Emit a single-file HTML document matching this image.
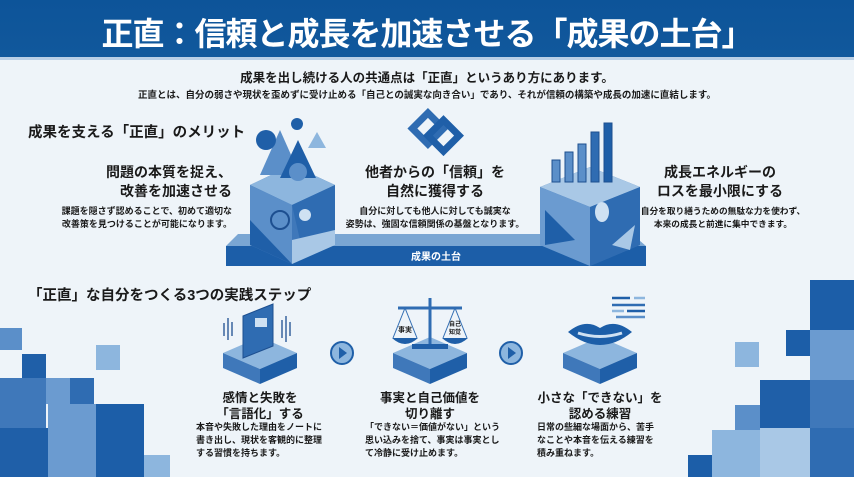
<!DOCTYPE html>
<html><head><meta charset="utf-8"><style>
*{margin:0;padding:0;box-sizing:border-box}
body{width:854px;height:477px;overflow:hidden;background:#eef4f9;font-family:"Liberation Sans","Noto Sans CJK JP",sans-serif;position:relative;color:#1a1a1a}
.t{position:absolute;white-space:nowrap;font-weight:bold}
.c{text-align:center}
.r{text-align:right}
</style></head><body>
<div style="position:absolute;left:0;top:0;width:854px;height:57px;background:linear-gradient(#0d5499,#11589c)"></div>
<div style="position:absolute;left:0;top:57px;width:854px;height:3px;background:#b9cfe6"></div>
<div class="t c" style="left:0;top:9px;width:854px;font-size:32px;color:#fff;letter-spacing:-1px">正直：信頼と成長を加速させる「成果の土台」</div>

<div class="t c" style="left:0;top:67px;width:854px;font-size:12.5px">成果を出し続ける人の共通点は「正直」というあり方にあります。</div>
<div class="t c" style="left:0;top:87px;width:854px;font-size:9.5px">正直とは、自分の弱さや現状を歪めずに受け止める「自己との誠実な向き合い」であり、それが信頼の構築や成長の加速に直結します。</div>

<div class="t" style="left:28px;top:121px;font-size:14.5px">成果を支える「正直」のメリット</div>

<svg style="position:absolute;left:0;top:0" width="854" height="477">
<polygon points="238,234 632,234 646,246 226,246" fill="#7aa6d3"/>
<rect x="226" y="246" width="420" height="20" fill="#1c5ea8"/>
<!-- left cube -->
<polygon points="292,165 335,185 335,245 292,264 250,245 250,185" fill="#3f78ba"/>
<polygon points="292,165 335,185 292,205 250,185" fill="#8db6de"/>
<polygon points="250,185 292,205 292,264 250,245" fill="#5b8fc9"/>
<polygon points="250,220 292,264 250,245" fill="#1f5fa8"/>
<polygon points="292,205 335,185 335,230 300,240" fill="#2f6cb2"/>
<polygon points="292,240 335,230 335,245 292,264" fill="#a9c8e6"/>
<circle cx="280" cy="220" r="9" fill="none" stroke="#1d4f90" stroke-width="2"/>
<circle cx="305" cy="215" r="6" fill="#cfe1f2"/>
<polygon points="280,130 300,175 260,175" fill="#5b8fc9"/>
<circle cx="266" cy="140" r="10" fill="#1f5fa8"/>
<circle cx="297" cy="124" r="6" fill="#1f5fa8"/>
<polygon points="317,132 326,148 308,148" fill="#8db6de"/>
<polygon points="298,140 316,178 280,178" fill="#1f5fa8"/>
<circle cx="298" cy="172" r="9" fill="#5b8fc9"/>
<!-- right cube -->
<polygon points="590,167 640,187 640,245 590,266 540,245 540,187" fill="#3f78ba"/>
<polygon points="590,167 640,187 590,207 540,187" fill="#a9c8e6"/>
<polygon points="540,187 590,207 590,266 540,245" fill="#6b9bd0"/>
<polygon points="590,207 640,187 640,245 590,266" fill="#2f6cb2"/>
<polygon points="545,210 575,240 545,245" fill="#1f5fa8"/>
<ellipse cx="602" cy="212" rx="7" ry="10" fill="#cfe1f2"/>
<polygon points="635,225 612,245 630,250" fill="#a9c8e6"/>
<rect x="552" y="160" width="8" height="22" fill="#5b8fc9" stroke="#1d4f90"/>
<rect x="565" y="152" width="8" height="30" fill="#5b8fc9" stroke="#1d4f90"/>
<rect x="578" y="144" width="8" height="38" fill="#5b8fc9" stroke="#1d4f90"/>
<rect x="591" y="132" width="8" height="50" fill="#2f6cb2" stroke="#1d4f90"/>
<rect x="604" y="123" width="8" height="59" fill="#1f5fa8" stroke="#1d4f90"/>
<!-- center icon -->
<g transform="translate(435,137) rotate(45)">
<rect x="-22" y="-12" width="22" height="22" fill="none" stroke="#2f6cb2" stroke-width="7"/>
<rect x="-6" y="-18" width="22" height="22" fill="none" stroke="#1f5fa8" stroke-width="7"/>
</g>
<!-- bottom decor left -->
<rect x="0" y="328" width="22" height="22" fill="#5b8fc9"/>
<rect x="22" y="354" width="24" height="24" fill="#1f5fa8"/>
<rect x="0" y="378" width="46" height="50" fill="#3f78ba"/>
<rect x="46" y="378" width="24" height="26" fill="#6b9bd0"/>
<rect x="70" y="378" width="24" height="26" fill="#2f6cb2"/>
<rect x="96" y="345" width="24" height="25" fill="#8db6de"/>
<rect x="0" y="428" width="48" height="49" fill="#1f5fa8"/>
<rect x="48" y="404" width="48" height="73" fill="#6b9bd0"/>
<rect x="96" y="404" width="48" height="73" fill="#1c5ea8"/>
<rect x="144" y="455" width="26" height="22" fill="#8db6de"/>
<!-- right decor -->
<rect x="810" y="280" width="44" height="50" fill="#1c5ea8"/>
<rect x="786" y="330" width="24" height="26" fill="#1c5ea8"/>
<rect x="810" y="330" width="44" height="50" fill="#6b9bd0"/>
<rect x="735" y="342" width="24" height="25" fill="#8db6de"/>
<rect x="760" y="380" width="50" height="48" fill="#1f5fa8"/>
<rect x="810" y="380" width="44" height="48" fill="#3f78ba"/>
<rect x="712" y="430" width="48" height="47" fill="#8db6de"/>
<rect x="760" y="428" width="50" height="49" fill="#a9c8e6"/>
<rect x="810" y="428" width="44" height="49" fill="#2f6cb2"/>
<rect x="688" y="455" width="24" height="22" fill="#1c5ea8"/>
<rect x="735" y="405" width="25" height="25" fill="#5b8fc9"/>
<!-- step cubes -->
<g>
<polygon points="260,337 297,353 260,369 223,353" fill="#8db6de"/>
<polygon points="223,353 260,369 260,384 223,368" fill="#3f78ba"/>
<polygon points="260,369 297,353 297,368 260,384" fill="#1f5fa8"/>
</g>
<g transform="translate(170,0)">
<polygon points="260,337 297,353 260,369 223,353" fill="#8db6de"/>
<polygon points="223,353 260,369 260,384 223,368" fill="#3f78ba"/>
<polygon points="260,369 297,353 297,368 260,384" fill="#1f5fa8"/>
</g>
<g transform="translate(340,0)">
<polygon points="260,337 297,353 260,369 223,353" fill="#8db6de"/>
<polygon points="223,353 260,369 260,384 223,368" fill="#3f78ba"/>
<polygon points="260,369 297,353 297,368 260,384" fill="#1f5fa8"/>
</g>
<!-- notebook -->
<polygon points="243,316 273,304 273,346 243,358" fill="#2f6cb2" stroke="#1d4f90"/>
<rect x="255" y="318" width="12" height="9" fill="#cfe1f2"/>
<g stroke="#1d4f90" stroke-width="1.3"><line x1="224" y1="323" x2="224" y2="336"/><line x1="228" y1="318" x2="228" y2="340"/><line x1="232" y1="322" x2="232" y2="336"/><line x1="282" y1="320" x2="282" y2="338"/><line x1="286" y1="316" x2="286" y2="342"/><line x1="290" y1="322" x2="290" y2="336"/></g>
<!-- scale -->
<line x1="430" y1="298" x2="430" y2="345" stroke="#2f6cb2" stroke-width="3"/>
<line x1="398" y1="308" x2="462" y2="308" stroke="#2f6cb2" stroke-width="3"/>
<path d="M392,338 Q405,350 418,338 Z" fill="#1f5fa8"/>
<path d="M442,338 Q455,350 468,338 Z" fill="#1f5fa8"/>
<line x1="405" y1="308" x2="393" y2="338" stroke="#2f6cb2"/><line x1="405" y1="308" x2="417" y2="338" stroke="#2f6cb2"/>
<line x1="455" y1="308" x2="443" y2="338" stroke="#2f6cb2"/><line x1="455" y1="308" x2="467" y2="338" stroke="#2f6cb2"/>
<rect x="412" y="344" width="36" height="5" fill="#1f5fa8"/>
<text x="405" y="332" font-size="7" text-anchor="middle" font-weight="bold" fill="#1a1a1a">事実</text>
<text x="455" y="326" font-size="6" text-anchor="middle" font-weight="bold" fill="#1a1a1a">自己</text>
<text x="455" y="334" font-size="6" text-anchor="middle" font-weight="bold" fill="#1a1a1a">知覚</text>
<!-- lips -->
<path d="M568,332 Q585,318 600,328 Q615,318 632,332 Q600,358 568,332Z" fill="#1c5ea8"/>
<path d="M578,333 Q600,340 622,333" stroke="#cfe1f2" stroke-width="3" fill="none"/>
<g stroke-width="2.5"><line x1="612" y1="298" x2="630" y2="298" stroke="#1f5fa8"/><line x1="634" y1="298" x2="645" y2="298" stroke="#8db6de"/><line x1="612" y1="305" x2="645" y2="305" stroke="#2f6cb2"/><line x1="612" y1="311" x2="624" y2="311" stroke="#8db6de"/><line x1="627" y1="311" x2="645" y2="311" stroke="#1f5fa8"/><line x1="616" y1="317" x2="645" y2="317" stroke="#5b8fc9"/></g>
<!-- arrows -->
<circle cx="342" cy="353" r="11" fill="#8db6de" stroke="#1f5fa8" stroke-width="2"/>
<polygon points="339,347 347,353 339,359" fill="#1f5fa8"/>
<circle cx="511" cy="353" r="11" fill="#8db6de" stroke="#1f5fa8" stroke-width="2"/>
<polygon points="508,347 516,353 508,359" fill="#1f5fa8"/>
</svg>
<div class="t c" style="left:226px;top:248px;width:420px;font-size:10px;color:#fff">成果の土台</div>

<div class="t r" style="left:60px;top:163px;width:172px;font-size:14px;line-height:19px">問題の本質を捉え、<br>改善を加速させる</div>
<div class="t r" style="left:40px;top:205px;width:192px;font-size:9px;line-height:13px">課題を隠さず認めることで、初めて適切な<br>改善策を見つけることが可能になります。</div>
<div class="t c" style="left:335px;top:163px;width:200px;font-size:14px;line-height:19px">他者からの「信頼」を<br>自然に獲得する</div>
<div class="t c" style="left:335px;top:205px;width:200px;font-size:9px;line-height:13px">自分に対しても他人に対しても誠実な<br>姿勢は、強固な信頼関係の基盤となります。</div>
<div class="t c" style="left:640px;top:163px;width:160px;font-size:14px;line-height:19px">成長エネルギーの<br>ロスを最小限にする</div>
<div class="t c" style="left:638px;top:205px;width:170px;font-size:8.7px;line-height:13px">自分を取り繕うための無駄な力を使わず、<br>本来の成長と前進に集中できます。</div>

<div class="t" style="left:28px;top:284px;font-size:14.5px">「正直」な自分をつくる3つの実践ステップ</div>

<div class="t c" style="left:190px;top:390px;width:140px;font-size:12.5px;line-height:16px">感情と失敗を<br>「言語化」する</div>
<div class="t" style="left:196px;top:421px;font-size:9px;line-height:13px">本音や失敗した理由をノートに<br>書き出し、現状を客観的に整理<br>する習慣を持ちます。</div>
<div class="t c" style="left:360px;top:390px;width:140px;font-size:12.5px;line-height:16px">事実と自己価値を<br>切り離す</div>
<div class="t" style="left:365px;top:421px;font-size:9px;line-height:13px">「できない＝価値がない」という<br>思い込みを捨て、事実は事実とし<br>て冷静に受け止めます。</div>
<div class="t c" style="left:530px;top:390px;width:140px;font-size:12.5px;line-height:16px">小さな「できない」を<br>認める練習</div>
<div class="t" style="left:537px;top:421px;font-size:9px;line-height:13px">日常の些細な場面から、苦手<br>なことや本音を伝える練習を<br>積み重ねます。</div>
</body></html>
